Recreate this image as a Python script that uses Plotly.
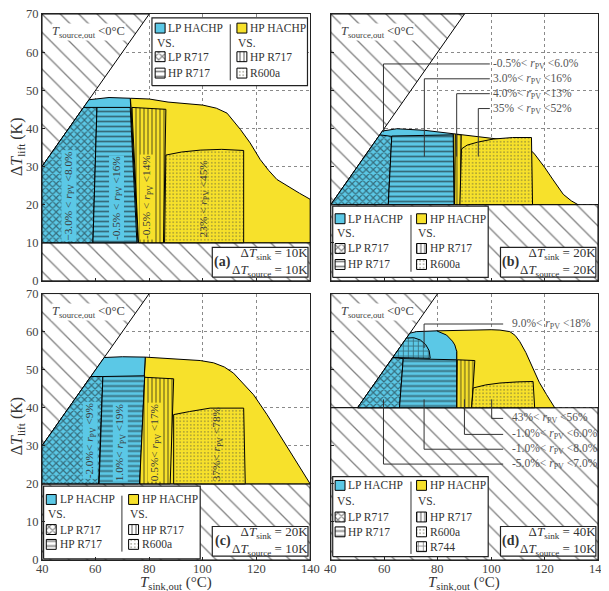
import plotly.graph_objects as go

CYAN = "#5BC8E6"
YELLOW = "#F7E12B"
FONT = "Liberation Serif"
TXT = "#333333"

X_TICKS = [40, 60, 80, 100, 120, 140]
Y_TICKS = [0, 10, 20, 30, 40, 50, 60, 70]

PANEL_TAGS = ["(a)", "(b)", "(c)", "(d)"]
DT_SINK = [10, 20, 20, 40]
DT_SOURCE = [10, 20, 10, 10]

# ---------------- panel (a)
A_LP_HACHP_X = [40, 40, 57.5, 65, 72.9, 75.8]
A_LP_HACHP_Y = [10, 30, 47.5, 48.1, 47.9, 10]
A_HP_HACHP_X = [73.0, 80, 87, 95, 100, 105, 109, 114, 117.6, 121.4, 124.5, 127.6, 132.5, 136, 140, 140, 75.8]
A_HP_HACHP_Y = [47.9, 47.7, 46.9, 46.4, 46.1, 45.3, 44.0, 39.7, 36.2, 31.8, 29.0, 26.6, 24.4, 23.0, 21.4, 10, 10]
A_LP_R717_X = [40, 40, 55.5, 60.5, 59.0]
A_LP_R717_Y = [10, 30, 45.5, 45.5, 10]
A_HP_R717_LP_X = [59.0, 60.5, 72.9, 75.4]
A_HP_R717_LP_Y = [10, 45.5, 45.5, 10]
A_HP_R717_HP_X = [76.0, 73.5, 86.2, 85.3]
A_HP_R717_HP_Y = [10, 45.5, 45.0, 10]
A_R600A_X = [85.7, 86.2, 92, 99, 107, 115.2, 115.2]
A_R600A_Y = [10, 33.0, 33.8, 34.3, 34.5, 34.2, 10]
A_LABELS = ["−3.0% < <i>r</i><sub>PV</sub> <8.0%", "-0.5% < <i>r</i><sub>PV</sub> <16%",
            "-0.5% < <i>r</i><sub>PV</sub> <14%", "23% < <i>r</i><sub>PV</sub> <45%"]
A_LABEL_X = [50, 67.7, 79.4, 100.5]
A_LABEL_Y = [22.3, 21.8, 21.9, 21.7]

# ---------------- panel (b)
B_LP_HACHP_X = [40, 59.3, 64.7, 75, 85.8, 86.2]
B_LP_HACHP_Y = [20, 39.3, 39.9, 39.5, 38.6, 20]
B_HP_HACHP_X = [85.8, 92, 100, 105, 110, 113, 116, 120, 123, 127, 130, 132.5, 86.2]
B_HP_HACHP_Y = [38.6, 38.1, 37.5, 37.0, 36.2, 35.3, 33.5, 29.8, 26.7, 22.7, 21.0, 20, 20]
B_LP_R717_X = [40, 58.3, 62.8, 61.5]
B_LP_R717_Y = [20, 38.3, 37.9, 20]
B_HP_R717_LP_X = [61.5, 62.8, 85.8, 86.1]
B_HP_R717_LP_Y = [20, 38.0, 38.3, 20]
B_HP_R717_HP_X = [86.3, 86.6, 88.8, 88.5]
B_HP_R717_HP_Y = [20, 38.4, 38.3, 20]
B_R600A_X = [88.3, 88.9, 91, 95, 100.8, 108, 115.1, 115.5]
B_R600A_Y = [20, 34.6, 35.6, 36.4, 37.2, 37.6, 37.6, 20]
B_LEADER_TEXT = ["-0.5%< <i>r</i><sub>PV</sub> <6.0%", "3.0%< <i>r</i><sub>PV</sub> <16%",
                 "4.0%< <i>r</i><sub>PV</sub> <13%", "35% < <i>r</i><sub>PV</sub> <52%"]
B_LEADER_Y = [56.9, 53.0, 49.1, 45.2]
B_LEADER_TX = [59.7, 75.0, 87.1, 95.2]
B_LEADER_END = [39.0, 32.6, 32.6, 32.6]

# ---------------- panel (c)
C_LP_HACHP_X = [40, 40, 63.2, 70, 78.5, 76.0]
C_LP_HACHP_Y = [20, 30, 53.2, 53.4, 53.3, 20]
C_HP_HACHP_X = [78.5, 90, 99, 104, 108, 111.4, 115, 118.9, 123.9, 128, 132, 136, 140, 76.4]
C_HP_HACHP_Y = [53.3, 52.9, 52.4, 51.8, 50.7, 49.1, 46.5, 43.4, 38.2, 33.5, 29.0, 24.5, 20, 20]
C_LP_R717_X = [40, 40, 58.2, 62.7, 61.1]
C_LP_R717_Y = [20, 30, 48.2, 48.2, 20]
C_HP_R717_LP_X = [61.3, 62.7, 78.3, 76.4]
C_HP_R717_LP_Y = [20, 48.2, 48.4, 20]
C_HP_R717_HP_X = [76.4, 78.3, 89.1, 87.8]
C_HP_R717_HP_Y = [20, 48.0, 47.6, 20]
C_R600A_X = [89.1, 89.1, 95, 102.7, 115.2, 115.8]
C_R600A_Y = [20, 38.2, 39.0, 39.9, 39.9, 20]
C_LABELS = ["-2.0%< <i>r</i><sub>PV</sub> <9%", "1.0%< <i>r</i><sub>PV</sub> <19%",
            "0.5%< <i>r</i><sub>PV</sub> <17%", "37%< <i>r</i><sub>PV</sub> <78%"]
C_LABEL_X = [58, 69.2, 82.2, 105.2]
C_LABEL_Y = [31.5, 31, 31, 30.6]

# ---------------- panel (d)
D_HP_HACHP_X = [79.6, 90, 100, 103.3, 107, 109, 110.7, 113, 115.7, 118, 120.7, 123.8, 87.1, 87.1]
D_HP_HACHP_Y = [60.2, 60.4, 60.5, 60.4, 60.0, 59.0, 57.4, 54.5, 50.4, 46.7, 43.5, 40, 40, 55]
D_LP_HACHP_X = [50, 69.6, 72.1, 76, 79.6, 83.3, 85.5, 86.4, 87.1, 87.1]
D_LP_HACHP_Y = [40, 59.6, 60.0, 60.2, 60.2, 59.1, 57.5, 56.5, 54.8, 40]
D_LP_R717_X = [50, 63.2, 67.1, 65.7]
D_LP_R717_Y = [40, 53.2, 52.9, 40]
D_HP_R717_LP_X = [65.7, 67.1, 87.1, 87.1]
D_HP_R717_LP_Y = [40, 52.9, 52.6, 40]
D_HP_R717_HP_X = [87.1, 87.3, 93.9, 92.7]
D_HP_R717_HP_Y = [40, 52.6, 52.4, 40]
D_R600A_X = [92.7, 93.3, 98, 103.3, 110, 115.7, 116.3]
D_R600A_Y = [40, 45.2, 46.0, 46.5, 46.8, 46.9, 40]
D_R744_X = [63.2, 68.3, 71, 73.5, 75.5, 76.8, 77.2]
D_R744_Y = [53.2, 58.3, 58.4, 57.8, 56.6, 55.0, 53.0]
D_LEADER_TEXT = ["9.0%< <i>r</i><sub>PV</sub> <18%", "43%< <i>r</i><sub>PV</sub> <56%",
                 "-1.0%< <i>r</i><sub>PV</sub> <6.0%", "-1.0%< <i>r</i><sub>PV</sub> <8.0%",
                 "-5.0%< <i>r</i><sub>PV</sub> <7.0%"]
D_LEADER_Y = [62.0, 37.2, 33.0, 29.1, 25.2]
D_LEADER_TX = [74.9, 100.2, 90.0, 74.9, 59.7]
D_LEADER_END = [55.7, 42.2, 42.2, 42.2, 42.2]

# ---------------- styles
PAT = {
    "excl": dict(shape="\\", size=13, solidity=0.1, fgcolor="black"),
    "lp_r717": dict(shape="x", size=5, solidity=0.42, fgcolor="#111111"),
    "hp_r717_lp": dict(shape="-", size=5, solidity=0.35, fgcolor="#111111"),
    "hp_r717_hp": dict(shape="|", size=4, solidity=0.35, fgcolor="#111111"),
    "r600a": dict(shape=".", size=3.5, solidity=0.22, fgcolor="#55553a"),
    "r744": dict(shape="+", size=5, solidity=0.3, fgcolor="#111111"),
}

AX = [("x", "y"), ("x2", "y2"), ("x3", "y3"), ("x4", "y4")]
fig = go.Figure()


def poly(p, xs, ys, fillcolor, pat=None, lw=1.0, lc="black"):
    xa, ya = AX[p]
    kw = {}
    if pat:
        d = dict(PAT[pat])
        d["bgcolor"] = fillcolor
        kw["fillpattern"] = d
    fig.add_trace(go.Scatter(x=list(xs) + [xs[0]], y=list(ys) + [ys[0]], mode="lines",
                             fill="toself", fillcolor=fillcolor,
                             line=dict(color=lc, width=lw), xaxis=xa, yaxis=ya,
                             hoverinfo="skip", showlegend=False, **kw))


def line(p, xs, ys, color="#333333", lw=1.0):
    xa, ya = AX[p]
    fig.add_trace(go.Scatter(x=xs, y=ys, mode="lines", line=dict(color=color, width=lw),
                             xaxis=xa, yaxis=ya, hoverinfo="skip", showlegend=False))


annotations = []


def text(p, x, y, t, size=12, color=TXT, **kw):
    xa, ya = AX[p]
    annotations.append(dict(x=x, y=y, xref=xa, yref=ya, text=t, showarrow=False,
                            font=dict(family=FONT, size=size, color=color), **kw))


# exclusion regions
for p in range(4):
    ymin, off = DT_SINK[p], DT_SOURCE[p]
    if 40 - off < ymin:
        tx = [40, ymin + off, 70 + off, 40]
        ty = [ymin, ymin, 70, 70]
    else:
        tx = [40, 70 + off, 40]
        ty = [40 - off, 70, 70]
    poly(p, tx, ty, "white", "excl")
    poly(p, [40, 140, 140, 40], [0, 0, ymin, ymin], "white", "excl")

# panel regions
REGIONS = [
    [(A_HP_HACHP_X, A_HP_HACHP_Y, YELLOW, None), (A_LP_HACHP_X, A_LP_HACHP_Y, CYAN, None),
     (A_LP_R717_X, A_LP_R717_Y, CYAN, "lp_r717"), (A_HP_R717_LP_X, A_HP_R717_LP_Y, CYAN, "hp_r717_lp"),
     (A_HP_R717_HP_X, A_HP_R717_HP_Y, YELLOW, "hp_r717_hp"), (A_R600A_X, A_R600A_Y, YELLOW, "r600a")],
    [(B_HP_HACHP_X, B_HP_HACHP_Y, YELLOW, None), (B_LP_HACHP_X, B_LP_HACHP_Y, CYAN, None),
     (B_LP_R717_X, B_LP_R717_Y, CYAN, "lp_r717"), (B_HP_R717_LP_X, B_HP_R717_LP_Y, CYAN, "hp_r717_lp"),
     (B_HP_R717_HP_X, B_HP_R717_HP_Y, YELLOW, "hp_r717_hp"), (B_R600A_X, B_R600A_Y, YELLOW, "r600a")],
    [(C_HP_HACHP_X, C_HP_HACHP_Y, YELLOW, None), (C_LP_HACHP_X, C_LP_HACHP_Y, CYAN, None),
     (C_LP_R717_X, C_LP_R717_Y, CYAN, "lp_r717"), (C_HP_R717_LP_X, C_HP_R717_LP_Y, CYAN, "hp_r717_lp"),
     (C_HP_R717_HP_X, C_HP_R717_HP_Y, YELLOW, "hp_r717_hp"), (C_R600A_X, C_R600A_Y, YELLOW, "r600a")],
    [(D_HP_HACHP_X, D_HP_HACHP_Y, YELLOW, None), (D_LP_HACHP_X, D_LP_HACHP_Y, CYAN, None),
     (D_R744_X, D_R744_Y, CYAN, "r744"),
     (D_LP_R717_X, D_LP_R717_Y, CYAN, "lp_r717"), (D_HP_R717_LP_X, D_HP_R717_LP_Y, CYAN, "hp_r717_lp"),
     (D_HP_R717_HP_X, D_HP_R717_HP_Y, YELLOW, "hp_r717_hp"), (D_R600A_X, D_R600A_Y, YELLOW, "r600a")],
]
for p, regs in enumerate(REGIONS):
    for xs, ys, col, pat in regs:
        poly(p, xs, ys, col, pat)

# rotated labels (a), (c)
for p, labs, lx, ly in [(0, A_LABELS, A_LABEL_X, A_LABEL_Y), (2, C_LABELS, C_LABEL_X, C_LABEL_Y)]:
    bgs = [CYAN, CYAN, YELLOW, None]
    for t, x, y, bg in zip(labs, lx, ly, bgs):
        kw = dict(textangle=-90, borderpad=0)
        if bg:
            kw["bgcolor"] = bg
        text(p, x, y, t, size=11.3, color="#3a3a3a", **kw)

# leader lines (b), (d)
for p, texts, ys, txs, ends, x_line, x_text in [
        (1, B_LEADER_TEXT, B_LEADER_Y, B_LEADER_TX, B_LEADER_END, 99.5, 100.0),
        (3, D_LEADER_TEXT, D_LEADER_Y, D_LEADER_TX, D_LEADER_END, 104.5, 107.0)]:
    for t, y, tx, e in zip(texts, ys, txs, ends):
        line(p, [x_line, tx, tx], [y, y, e])
        text(p, x_text, y, t, size=11.5, color="#555555", xanchor="left", yanchor="middle")

# source-temperature labels
for p in range(4):
    text(p, 43.3, 65.2, "<i>T</i><sub>source,out</sub> <0°C", size=12.5, color="#444444",
         xanchor="left", yanchor="middle", bgcolor="white", borderpad=0)

# legends
LEG_BOX = [(81, 139, 51.2, 69.0), (40.7, 98.9, 0.9, 19.6), (40.6, 99.0, 0.3, 19.4), (40.7, 98.9, 0.9, 21.9)]
LEG_ROWS = [[66.3, 62.5, 58.8, 54.5], [16.3, 12.6, 8.5, 4.3], [15.9, 12.0, 8.0, 4.1], [19.6, 15.5, 11.3, 7.4, 3.5]]
LEG_LEFT = [82.2, 41.6, 41.6, 41.6]
LEG_RIGHT = [112.7, 72.1, 72.3, 72.1]
LEG_DIV = [110.2, 70.0, 69.8, 70.0]
SW_W, SW_H = 3.7, 2.6
LEFT_ITEMS = [(CYAN, None, "LP HACHP"), (None, None, "VS."), ("white", "lp_r717", "LP R717"),
              ("white", "hp_r717_lp", "HP R717")]
RIGHT_ITEMS = [(YELLOW, None, "HP HACHP"), (None, None, "VS."), ("white", "hp_r717_hp", "HP R717"),
               ("white", "r600a", "R600a"), ("white", "r744", "R744")]

for p in range(4):
    x0, x1, y0, y1 = LEG_BOX[p]
    poly(p, [x0, x1, x1, x0], [y0, y0, y1, y1], "white", None, lw=1.2, lc="#222222")
    rows = LEG_ROWS[p]
    line(p, [LEG_DIV[p], LEG_DIV[p]], [rows[-1] - 1.9, rows[0] + 1.0], color="#333333", lw=1)
    for col_x, items in [(LEG_LEFT[p], LEFT_ITEMS), (LEG_RIGHT[p], RIGHT_ITEMS)]:
        n = 4 if (items is LEFT_ITEMS or p != 3) else 5
        for (fc, pat, lab), ry in zip(items[:n], rows):
            if fc is None:
                text(p, col_x - 0.2, ry, lab, size=11.5, xanchor="left", yanchor="middle")
                continue
            poly(p, [col_x, col_x + SW_W, col_x + SW_W, col_x],
                 [ry - SW_H / 2, ry - SW_H / 2, ry + SW_H / 2, ry + SW_H / 2], fc, pat, lw=1)
            text(p, col_x + SW_W + 0.5, ry, lab, size=11.5, xanchor="left", yanchor="middle")

# info boxes
for p in range(4):
    poly(p, [103.5, 139.2, 139.2, 103.5], [1.0, 1.0, 8.8, 8.8], "white", None, lw=1.2, lc="#222222")
    text(p, 107.4, 4.9, "<b>" + PANEL_TAGS[p] + "</b>", size=14, xanchor="center", yanchor="middle")
    text(p, 125.0, 5.0, "Δ<i>T</i><sub>sink</sub> = %dK<br>Δ<i>T</i><sub>source</sub> = %dK"
         % (DT_SINK[p], DT_SOURCE[p]), size=13, xanchor="center", yanchor="middle", align="right")

# x tick labels (bottom row)
for p in (2, 3):
    for v in X_TICKS:
        annotations.append(dict(x=v, y=0, xref=AX[p][0], yref="paper", text=str(v), showarrow=False,
                                yanchor="top", xanchor="center", yshift=0,
                                font=dict(family=FONT, size=12.5, color="#444444")))

# axis titles
for yc in [0.7556, 0.244]:
    annotations.append(dict(x=-0.044, y=yc, xref="paper", yref="paper", textangle=-90, showarrow=False,
                            text="Δ<i>T</i><sub>lift</sub> (K)", font=dict(family=FONT, size=16, color=TXT),
                            xanchor="center", yanchor="middle"))
for xc in [0.2412, 0.7598]:
    annotations.append(dict(x=xc, y=-0.043, xref="paper", yref="paper", showarrow=False,
                            text="<i>T</i><sub>sink,out</sub> (°C)", font=dict(family=FONT, size=15, color=TXT),
                            xanchor="center", yanchor="middle"))

# the page body adds an 8px offset, so the figure is drawn 8px smaller
XDOM = [[0, 0.4823], [0.5195, 1], [0, 0.4823], [0.5195, 1]]
YDOM = [[0.5112, 1], [0.5112, 1], [0, 0.488], [0, 0.488]]
layout = dict(width=601, height=583, autosize=False,
              margin=dict(l=34, r=11, t=6, b=31, pad=0, autoexpand=False),
              paper_bgcolor="white", plot_bgcolor="white", showlegend=False,
              annotations=annotations, font=dict(family=FONT, color=TXT))
for i in range(4):
    sx = "" if i == 0 else str(i + 1)
    common = dict(showgrid=True, gridcolor="#8a8a8a", griddash="dot", gridwidth=1, zeroline=False,
                  showline=True, linecolor="#222222", linewidth=1.2, mirror=True,
                  ticks="inside", ticklen=3, tickcolor="#222222", automargin=False,
                  tickfont=dict(family=FONT, size=12.5, color="#444444"), fixedrange=True)
    layout["xaxis" + sx] = dict(domain=XDOM[i], range=[40, 140], tickvals=X_TICKS,
                                showticklabels=False, anchor="y" + sx, **common)
    layout["yaxis" + sx] = dict(domain=YDOM[i], range=[0, 70], tickvals=Y_TICKS,
                                showticklabels=i in (0, 2), anchor="x" + sx,
                                ticklabeloverflow="allow", **common)
fig.update_layout(**layout)
fig.write_html("out.html", config={"responsive": False, "displayModeBar": False})
